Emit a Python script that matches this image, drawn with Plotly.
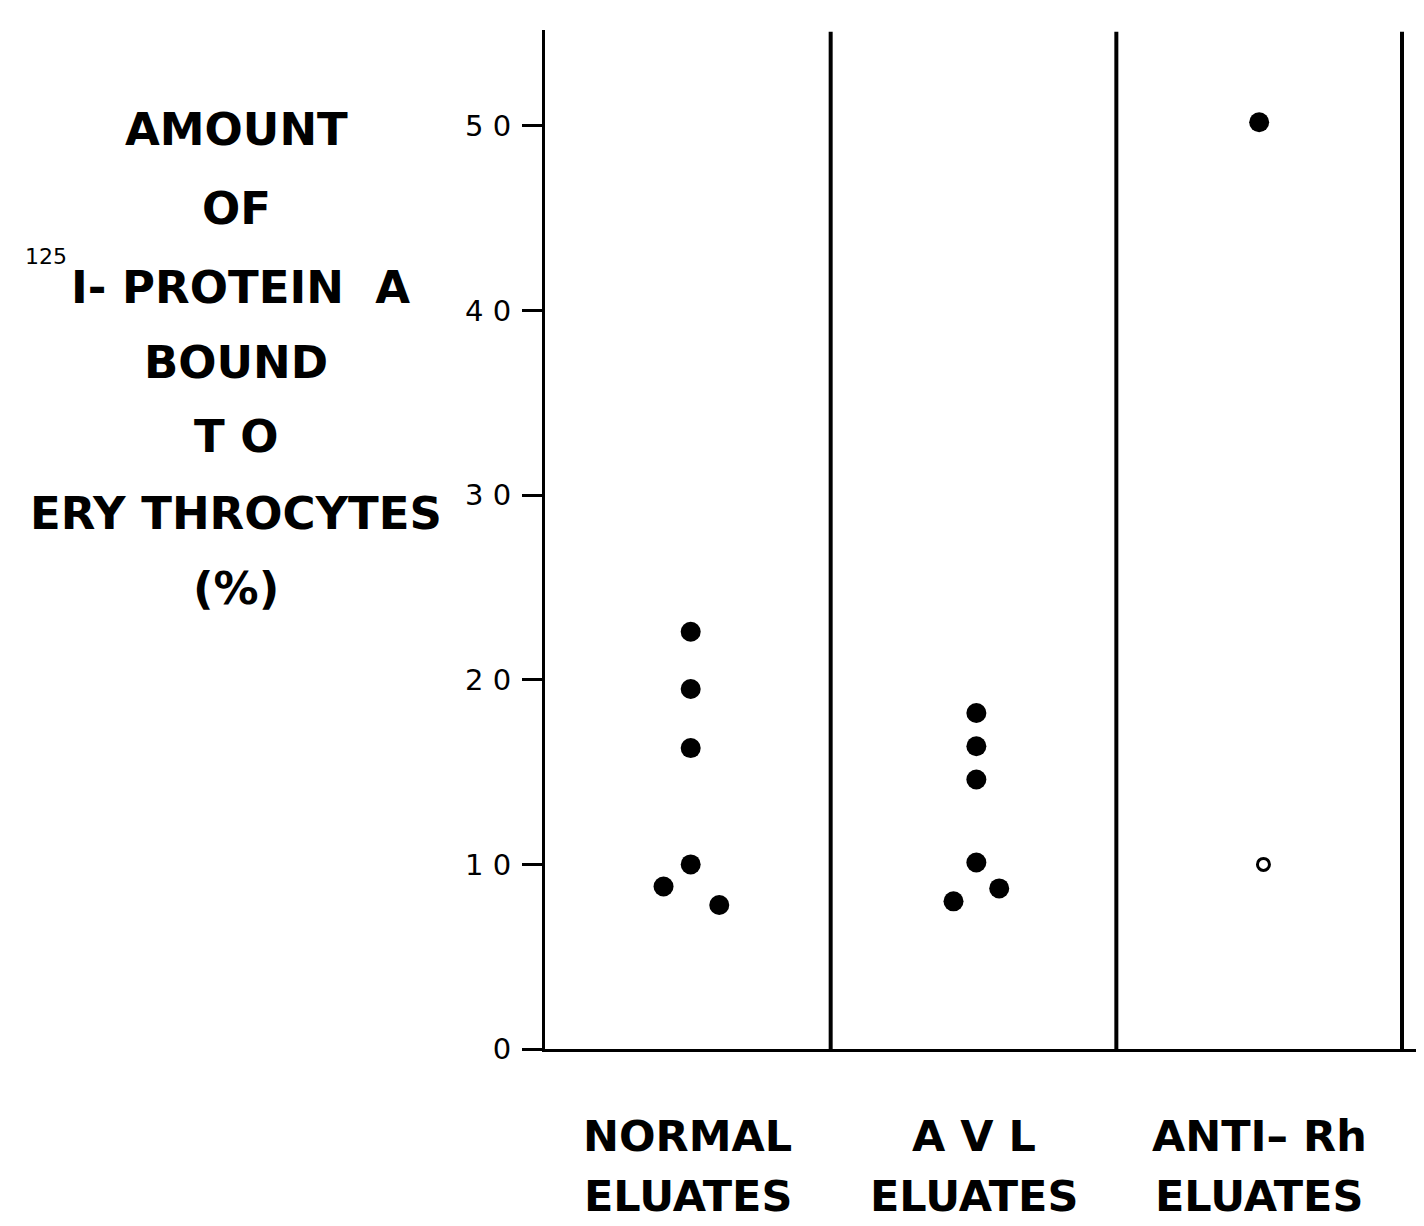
import plotly.graph_objects as go

cat_line1 = ["NORMAL", "A V L", "ANTI– Rh"]
cat_line2 = ["ELUATES", "ELUATES", "ELUATES"]

normal_vals = [22.6, 19.5, 16.3, 10.0, 8.8, 7.8]
normal_jit = [0.01, 0.01, 0.01, 0.01, -0.085, 0.11]
avl_vals = [18.2, 16.4, 14.6, 10.1, 8.0, 8.7]
avl_jit = [0.01, 0.01, 0.01, 0.01, -0.07, 0.09]
antirh_filled = [50.2]
antirh_filled_jit = [0.0]
antirh_open = [10.0]
antirh_open_jit = [0.015]

y_ticks = [0, 10, 20, 30, 40, 50]
y_ticktext = ["0", "1 0", "2 0", "3 0", "4 0", "5 0"]
y_title_lines = ["AMOUNT", "OF", "I- PROTEIN  A", "BOUND", "T O", "ERY THROCYTES", "(%)"]

OFF = 8  # browser body margin
W, H = 1424 - OFF, 1226 - OFF
L, R, T, B = 545 - OFF, 0, 30 - OFF, 177
fig = go.Figure()

def add_pts(idx, vals, jit, filled=True):
    fig.add_trace(go.Scatter(
        x=[idx + j for j in jit], y=vals, mode="markers",
        marker=dict(size=20 if filled else 12,
                    color="black" if filled else "white",
                    line=dict(color="black", width=0 if filled else 3)),
        showlegend=False, cliponaxis=False))

add_pts(0, normal_vals, normal_jit)
add_pts(1, avl_vals, avl_jit)
add_pts(2, antirh_filled, antirh_filled_jit)
add_pts(2, antirh_open, antirh_open_jit, filled=False)

ytop = 55.2
for xb in [0.5, 1.5, 2.5]:
    fig.add_shape(type="line", x0=xb, x1=xb, y0=0, y1=ytop - 0.1, xref="x", yref="y",
                  line=dict(color="black", width=4))

pw = W - L - R
ph = H - T - B
def px(x):
    return (x - OFF - L) / pw
def py(y):
    return (H - B - (y - OFF)) / ph

bold = dict(family="DejaVu Sans", size=43, color="black", weight="bold")
ann = []
for i, (a, b) in enumerate(zip(cat_line1, cat_line2)):
    ann.append(dict(x=i, y=py(1136), xref="x", yref="paper", text=a, showarrow=False,
                    yanchor="middle", xanchor="center", font=bold))
    ann.append(dict(x=i, y=py(1196), xref="x", yref="paper", text=b, showarrow=False,
                    yanchor="middle", xanchor="center", font=bold))
ys = [130, 208, 287, 362, 437, 513, 588]
for t, yy in zip(y_title_lines, ys):
    ann.append(dict(x=px(236 if t != "I- PROTEIN  A" else 240), y=py(yy), xref="paper", yref="paper",
                    text=t, showarrow=False, xanchor="center", yanchor="middle",
                    font=dict(family="DejaVu Sans", size=45, color="black", weight="bold")))
ann.append(dict(x=px(46), y=py(256), xref="paper", yref="paper", text="125", showarrow=False,
                xanchor="center", yanchor="middle",
                font=dict(family="DejaVu Sans", size=22, color="black")))

fig.update_layout(
    width=W, height=H, margin=dict(l=L, r=R, t=T, b=B),
    paper_bgcolor="white", plot_bgcolor="white",
    annotations=ann,
    xaxis=dict(range=[-0.5, 2.577], showgrid=False, zeroline=False, showticklabels=False,
               ticks="", showline=True, linecolor="black", linewidth=3),
    yaxis=dict(range=[0, ytop], showgrid=False, zeroline=False, tickvals=y_ticks,
               ticktext=y_ticktext,
               ticks="outside", ticklen=20, tickwidth=3, tickcolor="black",
               ticklabelstandoff=5,
               showline=True, linecolor="black", linewidth=3,
               tickfont=dict(family="DejaVu Sans", size=29, color="black")),
)

fig.write_html("out.html")
